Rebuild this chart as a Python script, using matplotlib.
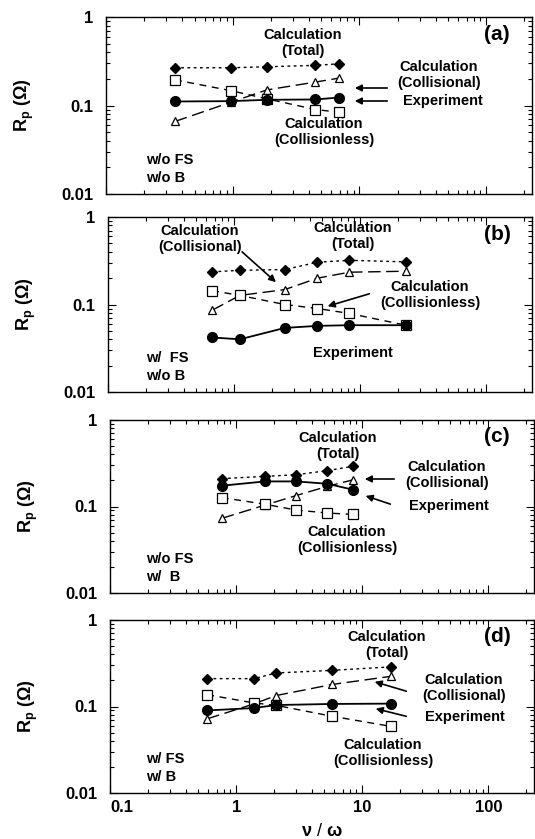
import matplotlib
matplotlib.use("Agg")
import matplotlib.pyplot as plt

matplotlib.rcParams["font.family"] = ["Liberation Sans", "DejaVu Sans"]
matplotlib.rcParams["mathtext.fontset"] = "custom"
matplotlib.rcParams["mathtext.rm"] = "Liberation Sans:bold"
matplotlib.rcParams["mathtext.it"] = "Liberation Sans:bold"
matplotlib.rcParams["mathtext.bf"] = "Liberation Sans:bold"

# ---- data (R_p in ohm vs nu/omega) ----
# (a) w/o FS, w/o B
a_nu = [0.35, 0.97, 1.86, 4.5, 6.9]
a_total = [0.267, 0.267, 0.274, 0.284, 0.296]
a_coll = [0.066, 0.109, 0.150, 0.184, 0.204]
a_colless = [0.195, 0.147, 0.119, 0.090, 0.084]
a_exp = [0.111, 0.112, 0.116, 0.117, 0.123]

# (b) w/ FS, w/o B
b_nu = [0.67, 1.11, 2.52, 4.58, 8.2, 23.0]
b_total = [0.236, 0.246, 0.251, 0.304, 0.320, 0.307]
b_coll = [0.086, 0.127, 0.148, 0.200, 0.234, 0.240]
b_colless = [0.144, 0.127, 0.100, 0.090, 0.079, 0.058]
b_exp = [0.042, 0.040, 0.054, 0.057, 0.058, 0.058]

# (c) w/o FS, w/ B
c_nu = [0.77, 1.7, 3.0, 5.3, 8.5]
c_total = [0.210, 0.223, 0.233, 0.260, 0.292]
c_coll = [0.073, 0.104, 0.134, 0.171, 0.204]
c_colless = [0.127, 0.106, 0.091, 0.084, 0.081]
c_exp = [0.174, 0.195, 0.195, 0.183, 0.156]

# (d) w/ FS, w/ B
d_nu = [0.59, 1.38, 2.08, 5.8, 16.8]
d_total = [0.210, 0.210, 0.244, 0.262, 0.287]
d_coll = [0.072, 0.107, 0.134, 0.180, 0.223]
d_colless = [0.137, 0.110, 0.103, 0.077, 0.059]
d_exp = [0.090, 0.096, 0.104, 0.107, 0.108]

panel_tags = ["(a)", "(b)", "(c)", "(d)"]
panel_conds = ["w/o FS\nw/o B", "w/  FS\nw/o B", "w/o FS\nw/  B", "w/ FS\nw/ B"]
xtick_vals = [0.1, 1, 10, 100]
xtick_labels = ["0.1", "1", "10", "100"]
ytick_vals = [0.01, 0.1, 1]
ytick_labels = ["0.01", "0.1", "1"]

W, H = 535, 839
fig = plt.figure(figsize=(W / 100, H / 100), dpi=100)

# panel boxes in pixels: left, top, right, bottom
boxes = [(106, 17, 532, 194), (108, 217, 532, 392),
         (110, 420, 534, 593), (110, 620, 534, 793)]


def add_panel(box):
    l, t, r, b = box
    return fig.add_axes([l / W, 1 - b / H, (r - l) / W, (b - t) / H])


def pf(box, x, y):
    # pixel position -> axes fraction
    l, t, r, b = box
    return ((x - l) / (r - l), (b - y) / (b - t))


TXT = dict(fontsize=10.5, fontweight="bold", ha="center", va="center",
           linespacing=1.1)
ARW = dict(arrowstyle="-|>", color="k", lw=1.2, mutation_scale=10)


def draw_series(ax, nu, total, coll, colless, exp):
    ax.plot(nu, total, color="k", ls=(0, (2, 2.5)), lw=1.0, marker="D",
            ms=5, mfc="k", mec="k", zorder=3)
    ax.plot(nu, coll, color="k", ls=(0, (9, 4)), lw=1.0, marker="^",
            ms=6, mfc="white", mec="k", mew=0.9, zorder=3)
    ax.plot(nu, colless, color="k", ls=(0, (5, 4)), lw=1.0, marker="s",
            ms=6.5, mfc="white", mec="k", mew=0.9, zorder=4)
    ax.plot(nu, exp, color="k", ls="-", lw=1.3, marker="o",
            ms=7, mfc="k", mec="k", zorder=5)


def note(ax, box, s, x, y, **kw):
    opts = dict(TXT)
    opts.update(kw)
    ax.text(*pf(box, x, y), s, transform=ax.transAxes, **opts)


def arrow(ax, box, x0, y0, x1, y1):
    ax.annotate("", xy=pf(box, x1, y1), xytext=pf(box, x0, y0),
                xycoords="axes fraction", textcoords="axes fraction",
                arrowprops=ARW)


series = [(a_nu, a_total, a_coll, a_colless, a_exp),
          (b_nu, b_total, b_coll, b_colless, b_exp),
          (c_nu, c_total, c_coll, c_colless, c_exp),
          (d_nu, d_total, d_coll, d_colless, d_exp)]

axes = []
for i, box in enumerate(boxes):
    ax = add_panel(box)
    axes.append(ax)
    draw_series(ax, *series[i])
    ax.set_xscale("log")
    ax.set_yscale("log")
    ax.set_xlim(0.1, 230)
    ax.set_ylim(0.01, 1)
    ax.set_yticks(ytick_vals)
    ax.set_yticklabels(ytick_labels, fontweight="bold")
    ax.set_xticks(xtick_vals)
    ax.tick_params(which="both", direction="in", top=True, right=True,
                   labelsize=12, width=0.8)
    ax.tick_params(which="major", length=6, pad=5)
    ax.tick_params(which="minor", length=3)
    ax.tick_params(axis="y", pad=9)
    if i < 3:
        ax.set_xticklabels([])
    else:
        ax.set_xticklabels(xtick_labels, fontweight="bold")
        ax.get_xticklabels()[0].set_ha("left")
        ax.set_xlabel(r"$\nu$ / $\omega$", fontsize=13, labelpad=6)
    for sp in ax.spines.values():
        sp.set_linewidth(1.0)
    ax.set_ylabel(r"R$_\mathrm{p}$ ($\Omega$)", fontsize=13,
                  fontweight="bold")
    ax.yaxis.set_label_coords(-0.165, 0.5)
    ax.text(*pf(box, 497, box[1] + 17), panel_tags[i],
            transform=ax.transAxes, fontsize=15, fontweight="bold",
            ha="center", va="center")
    ax.text(*pf(box, 146, box[3] - 25), panel_conds[i],
            transform=ax.transAxes, fontsize=10.5, fontweight="bold",
            ha="left", va="center", linespacing=1.3)

# (a)
ax, box = axes[0], boxes[0]
note(ax, box, "Calculation\n(Total)", 303, 43)
note(ax, box, "Calculation\n(Collisional)", 439, 75)
note(ax, box, "Experiment", 443, 101)
note(ax, box, "Calculation\n(Collisionless)", 324, 132)
arrow(ax, box, 390, 88, 352, 88)
arrow(ax, box, 390, 101, 352, 101)

# (b)
ax, box = axes[1], boxes[1]
note(ax, box, "Calculation\n(Collisional)", 200, 239)
note(ax, box, "Calculation\n(Total)", 353, 236)
note(ax, box, "Calculation\n(Collisionless)", 430, 295)
note(ax, box, "Experiment", 353, 353)
arrow(ax, box, 240, 250, 278, 284)
arrow(ax, box, 372, 293, 325, 307)

# (c)
ax, box = axes[2], boxes[2]
note(ax, box, "Calculation\n(Total)", 338, 446)
note(ax, box, "Calculation\n(Collisional)", 447, 475)
note(ax, box, "Experiment", 449, 506)
note(ax, box, "Calculation\n(Collisionless)", 347, 540)
arrow(ax, box, 397, 479, 362, 479)
arrow(ax, box, 393, 505, 363, 495)

# (d)
ax, box = axes[3], boxes[3]
note(ax, box, "Calculation\n(Total)", 387, 645)
note(ax, box, "Calculation\n(Collisional)", 464, 688)
note(ax, box, "Experiment", 465, 717)
note(ax, box, "Calculation\n(Collisionless)", 383, 753)
arrow(ax, box, 409, 692, 372, 681)
arrow(ax, box, 409, 717, 373, 708)

fig.savefig("out.png", dpi=100)
